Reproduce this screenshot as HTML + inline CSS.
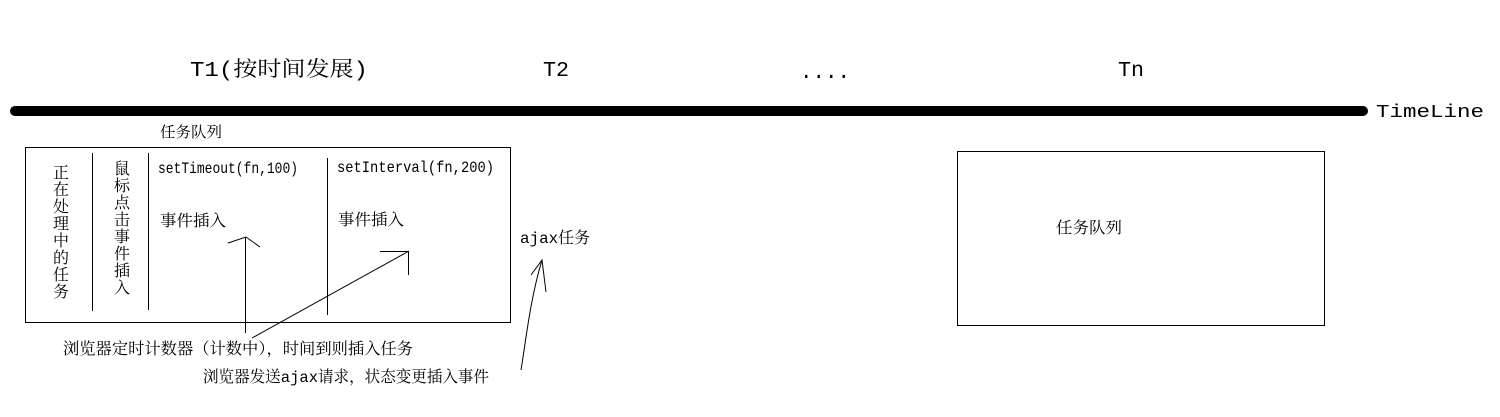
<!DOCTYPE html>
<html><head><meta charset="utf-8"><style>
html,body{margin:0;padding:0;background:#fff;width:1500px;height:417px;overflow:hidden}
svg text{font-family:"Liberation Mono","Noto Serif CJK SC",monospace;fill:#000}
</style></head><body>
<svg width="1500" height="417" viewBox="0 0 1500 417" xmlns="http://www.w3.org/2000/svg">
<g font-size="21">
<text x="190" y="76" textLength="178" lengthAdjust="spacingAndGlyphs">T1(按时间发展)</text>
<text x="543" y="76" textLength="26" lengthAdjust="spacingAndGlyphs">T2</text>
<text x="800" y="78" textLength="50" lengthAdjust="spacingAndGlyphs">....</text>
<text x="1118" y="76" textLength="26" lengthAdjust="spacingAndGlyphs">Tn</text>
</g>
<rect x="10" y="106" width="1358" height="10" rx="5" fill="#000"/>
<text x="1376" y="117" font-size="18" textLength="108" lengthAdjust="spacingAndGlyphs">TimeLine</text>
<text x="160" y="137" font-size="15" textLength="62" lengthAdjust="spacingAndGlyphs">任务队列</text>
<rect x="25.5" y="147.5" width="485" height="175" fill="none" stroke="#000"/>
<line x1="92.5" y1="153" x2="92.5" y2="311" stroke="#000"/>
<line x1="148.5" y1="153" x2="148.5" y2="310" stroke="#000"/>
<line x1="327.5" y1="158" x2="327.5" y2="315" stroke="#000"/>
<g font-size="16">
<text x="53" y="178">正</text><text x="53" y="195">在</text><text x="53" y="212">处</text><text x="53" y="229">理</text><text x="53" y="246">中</text><text x="53" y="263">的</text><text x="53" y="280">任</text><text x="53" y="297">务</text>
<text x="114" y="174">鼠</text><text x="114" y="191">标</text><text x="114" y="208">点</text><text x="114" y="225">击</text><text x="114" y="242">事</text><text x="114" y="259">件</text><text x="114" y="276">插</text><text x="114" y="293">入</text>
<text x="158" y="173" textLength="140" lengthAdjust="spacingAndGlyphs">setTimeout(fn,100)</text>
<text x="337" y="172" textLength="157" lengthAdjust="spacingAndGlyphs">setInterval(fn,200)</text>
<text x="160" y="226" textLength="66" lengthAdjust="spacingAndGlyphs">事件插入</text>
<text x="338" y="225" textLength="66" lengthAdjust="spacingAndGlyphs">事件插入</text>
<text x="520" y="243" textLength="70" lengthAdjust="spacingAndGlyphs">ajax任务</text>
<text x="63" y="354" textLength="350" lengthAdjust="spacingAndGlyphs">浏览器定时计数器（计数中），时间到则插入任务</text>
<text x="203" y="382" textLength="286" lengthAdjust="spacingAndGlyphs">浏览器发送ajax请求，状态变更插入事件</text>
<text x="1056" y="233" textLength="66" lengthAdjust="spacingAndGlyphs">任务队列</text>
</g>
<g fill="none" stroke="#000" stroke-width="1">
<line x1="245.5" y1="333" x2="245.5" y2="237"/>
<polyline points="228,243 246,237 260,247"/>
<line x1="252" y1="338" x2="409" y2="251"/>
<line x1="380" y1="251.5" x2="409" y2="251.5"/>
<line x1="408.5" y1="251" x2="408.5" y2="275"/>
<path d="M521,370 C526,340 530,300 542,260"/>
<polyline points="531,275 542,260 546,292"/>
</g>
<rect x="957.5" y="151.5" width="367" height="174" fill="none" stroke="#000"/>
</svg>
</body></html>
